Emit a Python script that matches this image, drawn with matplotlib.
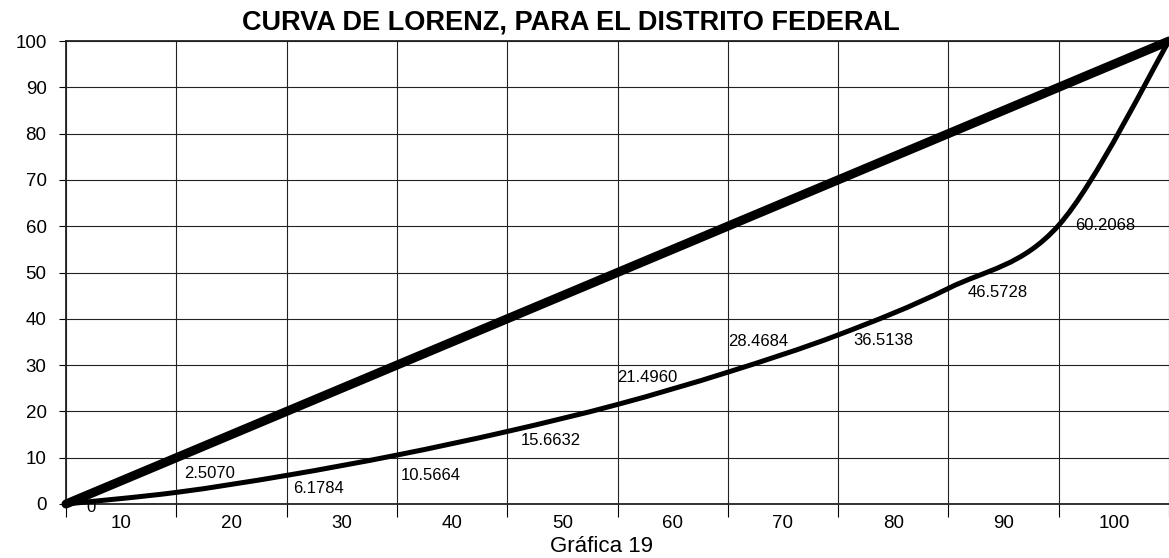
import matplotlib
matplotlib.use('Agg')
import matplotlib.pyplot as plt
from matplotlib.path import Path
from matplotlib.patches import PathPatch
import numpy as np

plt.rcParams['font.family'] = ['Liberation Sans', 'DejaVu Sans']

# Data
poblacion = [0, 10, 20, 30, 40, 50, 60, 70, 80, 90, 100]
igualdad = [0, 10, 20, 30, 40, 50, 60, 70, 80, 90, 100]
lorenz = [0, 2.5070, 6.1784, 10.5664, 15.6632, 21.4960,
          28.4684, 36.5138, 46.5728, 60.2068, 100]
etiquetas = ['0', '2.5070', '6.1784', '10.5664', '15.6632', '21.4960',
             '28.4684', '36.5138', '46.5728', '60.2068', '']
x_tick_labels = ['10', '20', '30', '40', '50', '60', '70', '80', '90', '100']
titulo = 'CURVA DE LORENZ, PARA EL DISTRITO FEDERAL'
pie = 'Gráfica 19'

# label offsets in pixels (dx, dy), as placed in the original
offsets = [(20, -3), (8, 19), (7, -13), (4, -20), (14, -9), (0, 27),
           (0, 31), (15, -6), (19, -4), (16, 0), (0, 0)]


def smooth_path(xs, ys):
    # Excel-like smoothed line: cubic Bezier through every point
    pts = np.column_stack([xs, ys]).astype(float)
    n = len(pts)
    verts = [pts[0]]
    codes = [Path.MOVETO]
    for i in range(n - 1):
        p0 = pts[i - 1] if i > 0 else pts[i]
        p1 = pts[i]
        p2 = pts[i + 1]
        p3 = pts[i + 2] if i + 2 < n else pts[i + 1]
        c1 = p1 + (p2 - p0) / 6.0
        c2 = p2 - (p3 - p1) / 6.0
        verts += [c1, c2, p2]
        codes += [Path.CURVE4] * 3
    return Path(verts, codes)


fig = plt.figure(figsize=(11.69, 5.58), dpi=100)
ax = fig.add_axes([66 / 1169, 54 / 558, 1103 / 1169, 463 / 558])
ax.set_xlim(0, 100)
ax.set_ylim(0, 100)

ax.set_xticks(poblacion)
ax.set_xticklabels([])
ax.set_xticks(np.arange(5, 100, 10), minor=True)
ax.set_xticklabels(x_tick_labels, minor=True)
ax.tick_params(axis='x', which='major', length=9, width=0.8, direction='out')
ax.tick_params(axis='x', which='minor', length=0, pad=8, labelsize=13.5)
ax.set_yticks(np.arange(0, 101, 10))
ax.tick_params(axis='y', length=5, width=0.8, pad=9, labelsize=13.5)

ax.grid(True, which='major', color='#222222', linewidth=0.8)
ax.set_axisbelow(True)
for s in ['left', 'top', 'bottom']:
    ax.spines[s].set_linewidth(1.3)
    ax.spines[s].set_color('#222222')
ax.spines['right'].set_visible(False)

ax.plot(poblacion, igualdad, color='black', linewidth=6.5,
        solid_capstyle='round', clip_on=False, zorder=3)
ax.add_patch(PathPatch(smooth_path(poblacion, lorenz), facecolor='none',
                       edgecolor='black', linewidth=3.6, capstyle='round',
                       clip_on=False, zorder=3))

for xv, yv, lab, off in zip(poblacion, lorenz, etiquetas, offsets):
    if not lab:
        continue
    ax.annotate(lab, (xv, yv), xytext=off, textcoords='offset pixels',
                ha='left', va='center', fontsize=12, color='black', zorder=4)

fig.text(571 / 1169, 1 - 22 / 558, titulo, ha='center', va='center',
         fontsize=19.5, fontweight='bold')
fig.text(601 / 1169, 1 - 547 / 558, pie, ha='center', va='center',
         fontsize=16)

fig.savefig('out.png', dpi=100)
